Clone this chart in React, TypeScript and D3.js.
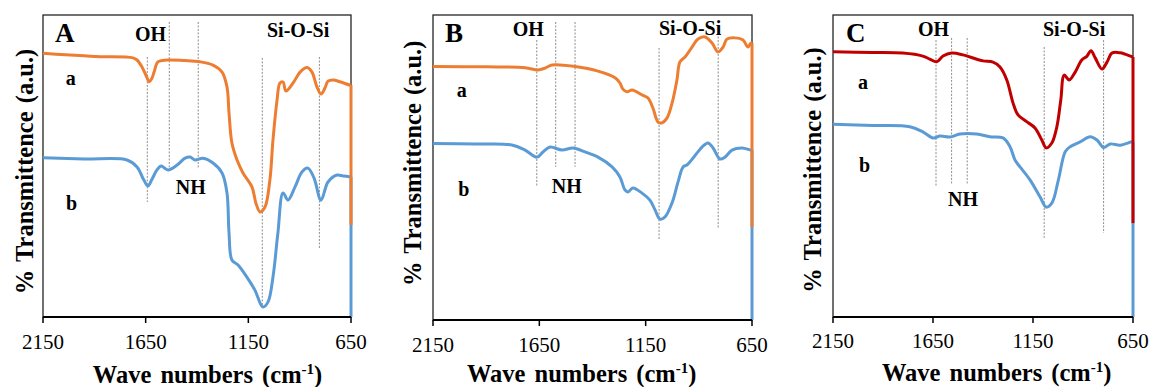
import React from "react";
import * as d3 from "d3";

// ---------- data (wavenumber cm-1, % transmittance a.u.) ----------
const tickValues = [2150, 1650, 1150, 650];
const panelLetters = ["A", "B", "C"];

const spectrumAa: [number, number][] = [
  [2150, 87.3], [2040, 86.8], [1950, 86.5], [1872, 86.2], [1712, 85.8], [1692, 85.1], [1668, 82.8],
  [1645, 79.5], [1634, 77.9], [1620, 79], [1609, 81.1], [1590, 84.5], [1546, 85.1], [1460, 84.9],
  [1385, 84.5], [1322, 83.4], [1278, 81.1], [1254, 76.2], [1244, 67.5], [1230, 57.6], [1205, 52],
  [1176, 47.7], [1132, 43], [1113, 37.7], [1093, 34.8], [1069, 36.4], [1045, 45.4], [1030, 58.6],
  [1010, 71.9], [996, 77.5], [981, 77.8], [967, 74.8], [932, 77.5], [898, 81.1], [864, 82.6],
  [840, 81.1], [816, 76.2], [796, 73.8], [777, 75.8], [762, 78.1], [738, 78.5], [700, 77.8],
  [655, 76.8], [650, 76.8], [650, 30.5],
];
const spectrumAb: [number, number][] = [
  [2150, 52.7], [1950, 52.3], [1741, 52.0], [1692, 49.7], [1660, 45.5], [1639, 43.4], [1620, 45.5],
  [1595, 48.7], [1575, 50.0], [1541, 48.7], [1497, 50.3], [1458, 52.6], [1434, 53.0], [1410, 52.0],
  [1371, 52.6], [1322, 51.0], [1278, 47.7], [1254, 41.1], [1244, 27.8], [1230, 18.9], [1200, 17.2],
  [1157, 13.2], [1118, 8.9], [1079, 3.3], [1054, 5.0], [1030, 13.2], [1006, 27.8], [981, 41.1],
  [957, 38.7], [923, 43.0], [889, 48.0], [860, 49.3], [830, 46.0], [796, 38.7], [762, 44.7],
  [718, 47.0], [689, 46.7], [655, 46.4], [650, 46.4], [650, 0],
];
const spectrumBa: [number, number][] = [
  [2150, 83.1], [1900, 83.0], [1717, 82.7], [1656, 82.0], [1623, 82.6], [1590, 83.6], [1482, 83.1],
  [1374, 81.6], [1294, 79.4], [1271, 77.7], [1257, 75.7], [1238, 74.8], [1214, 75.4], [1167, 73.8],
  [1139, 72.8], [1116, 69.5], [1092, 64.9], [1075, 64.6], [1050, 66.2], [1026, 71.1], [1003, 78.7],
  [989, 84.6], [965, 86.2], [932, 89.5], [904, 92.1], [871, 92.8], [838, 90.8], [810, 87.9],
  [786, 89.5], [768, 92.1], [730, 92.5], [692, 91.8], [669, 89.5], [655, 90.8], [650, 90.8], [650, 30.5],
];
const spectrumBb: [number, number][] = [
  [2150, 57.9], [1950, 57.7], [1779, 57.4], [1717, 55.7], [1661, 53.4], [1633, 55.1], [1600, 56.7],
  [1543, 55.7], [1492, 56.4], [1435, 55.1], [1374, 53.4], [1308, 50.2], [1271, 46.9], [1247, 42.6],
  [1233, 42.0], [1210, 43.3], [1167, 41.6], [1130, 39.3], [1106, 36.1], [1083, 33.1], [1059, 33.8],
  [1026, 38.4], [998, 45.2], [974, 50.2], [956, 50.8], [927, 53.1], [885, 56.7], [857, 58.0],
  [833, 56.4], [801, 52.8], [777, 53.4], [744, 55.7], [697, 56.4], [655, 55.7], [650, 55.7], [650, 0],
];
const spectrumCa: [number, number][] = [
  [2150, 87.8], [1950, 87.6], [1801, 87.4], [1701, 86.4], [1666, 85.4], [1632, 84.5], [1600, 86.4],
  [1557, 87.4], [1500, 86.8], [1465, 86.1], [1400, 84.8], [1350, 84.4], [1315, 82.8], [1281, 78.5],
  [1250, 70.9], [1225, 66.9], [1180, 64.6], [1140, 62.6], [1106, 58.6], [1084, 56.0], [1056, 57.6],
  [1031, 62.9], [1011, 71.9], [994, 80.1], [969, 78.5], [939, 81.1], [906, 85.1], [880, 86.4],
  [860, 88.2], [839, 85.8], [805, 82.1], [780, 84.4], [755, 87.4], [714, 87.5], [655, 86.2],
  [650, 86.1], [650, 31.1],
];
const spectrumCb: [number, number][] = [
  [2150, 63.8], [1950, 63.4], [1766, 63.0], [1701, 61.3], [1649, 59.3], [1615, 59.9], [1565, 59.6],
  [1515, 60.6], [1432, 60.6], [1365, 59.7], [1300, 59.3], [1265, 56.4], [1240, 52.0], [1215, 49.7],
  [1165, 45.4], [1115, 39.8], [1084, 36.4], [1056, 37.7], [1023, 45.4], [989, 54.7], [964, 56.4],
  [914, 58.0], [864, 59.7], [830, 58.6], [797, 56.1], [764, 57.3], [714, 56.9], [655, 58.0],
  [650, 57.9], [650, 0],
];

// dashed guide lines: [wavenumber, T top, T bottom]
const guidesA: [number, number, number][] = [
  [1642, 86.1, 38.1], [1535, 97.7, 49.3], [1394, 97.7, 49.3], [1082, 85.8, 3.0], [804, 86.1, 22.8],
];
const guidesB: [number, number, number][] = [
  [1662, 91.8, 43.6], [1573, 97.7, 50.2], [1482, 97.7, 50.2], [1087, 89.2, 26.2], [809, 94.1, 30.2],
];
const guidesC: [number, number, number][] = [
  [1635, 91.7, 43.0], [1557, 92.4, 44.0], [1479, 92.4, 44.0], [1094, 89.4, 26.2], [797, 91.7, 27.8],
];

const seriesLabels = ["a", "b"];
const bandLabels = ["OH", "NH", "Si-O-Si"];

// ---------- layout ----------
const ORANGE = "#ED7D31";
const BLUE = "#5B9BD5";
const RED = "#C00000";
const FONT = "'Liberation Serif', 'Times New Roman', serif";

type Panel = {
  letter: string;
  left: number; right: number; top: number; bottom: number;
  a: [number, number][]; b: [number, number][]; colorA: string;
  guides: [number, number, number][];
  yTitleX: number; yTitleY: number; xTitleX: number; xTitleY: number; tickY: number;
  letterPos: [number, number]; ohPos: [number, number]; siPos: [number, number]; nhPos: [number, number];
  aPos: [number, number]; bPos: [number, number];
};

const panels: Panel[] = [
  {
    letter: panelLetters[0], left: 43, right: 351, top: 15, bottom: 317,
    a: spectrumAa, b: spectrumAb, colorA: ORANGE, guides: guidesA,
    yTitleX: 33, yTitleY: 171.5, xTitleX: 207.5, xTitleY: 383, tickY: 348.5,
    letterPos: [55, 42], ohPos: [135, 40.7], siPos: [267, 36.5], nhPos: [175.7, 194.3],
    aPos: [65.7, 85], bPos: [66, 210],
  },
  {
    letter: panelLetters[1], left: 433, right: 752, top: 15, bottom: 320,
    a: spectrumBa, b: spectrumBb, colorA: ORANGE, guides: guidesB,
    yTitleX: 421, yTitleY: 163.3, xTitleX: 581.7, xTitleY: 381.7, tickY: 352.3,
    letterPos: [445, 42], ohPos: [512.7, 35.7], siPos: [659, 35], nhPos: [551.7, 192.7],
    aPos: [456.7, 97.3], bPos: [458.3, 196],
  },
  {
    letter: panelLetters[2], left: 833, right: 1133, top: 15, bottom: 317,
    a: spectrumCa, b: spectrumCb, colorA: RED, guides: guidesC,
    yTitleX: 821, yTitleY: 170, xTitleX: 996.7, xTitleY: 381, tickY: 348.3,
    letterPos: [846, 42], ohPos: [918, 36], siPos: [1043, 36], nhPos: [948, 205.7],
    aPos: [858, 89], bPos: [859, 171.7],
  },
];

function Spectrum({ data, x, y, color }: { data: [number, number][]; x: any; y: any; color: string }) {
  const main = data.slice(0, -1);
  const tail = data.slice(-2);
  const curve = d3.line<[number, number]>().x((d) => x(d[0])).y((d) => y(d[1])).curve(d3.curveCatmullRom.alpha(0.5));
  const straight = d3.line<[number, number]>().x((d) => x(d[0])).y((d) => y(d[1]));
  return (
    <g fill="none" stroke={color} strokeWidth={3} strokeLinejoin="round" strokeLinecap="butt">
      <path d={curve(main) || ""} />
      <path d={straight(tail) || ""} />
    </g>
  );
}

function PanelView({ p }: { p: Panel }) {
  const x = d3.scaleLinear().domain([2150, 650]).range([p.left, p.right]);
  const y = d3.scaleLinear().domain([0, 100]).range([p.bottom, p.top]);
  const boldText = { fontFamily: FONT, fontWeight: 700 as const, fill: "#000" };
  return (
    <g>
      <rect x={p.left} y={p.top} width={p.right - p.left} height={p.bottom - p.top} fill="none" stroke="#262626" strokeWidth={1.3} />
      {p.guides.map((g, i) => (
        <line key={i} x1={x(g[0])} x2={x(g[0])} y1={y(g[1])} y2={y(g[2])} stroke="#8c8c8c" strokeWidth={1} strokeDasharray="2,1.5" />
      ))}
      <Spectrum data={p.b} x={x} y={y} color={BLUE} />
      <Spectrum data={p.a} x={x} y={y} color={p.colorA} />
      <line x1={p.left} x2={p.right} y1={p.bottom} y2={p.bottom} stroke="#000" strokeWidth={1.8} />
      {tickValues.map((t) => (
        <g key={t}>
          <line x1={x(t)} x2={x(t)} y1={p.bottom} y2={p.bottom + 6} stroke="#000" strokeWidth={1.5} />
          <text x={x(t)} y={p.tickY} textAnchor="middle" fontFamily={FONT} fontSize={21} fill="#000">{t}</text>
        </g>
      ))}
      <text x={p.xTitleX} y={p.xTitleY} textAnchor="middle" {...boldText} fontSize={24.5} wordSpacing={3}>
        Wave numbers (cm<tspan dy={-9} fontSize={15}>-1</tspan><tspan dy={9}>)</tspan>
      </text>
      <text transform={`translate(${p.yTitleX},${p.yTitleY}) rotate(-90)`} textAnchor="middle" {...boldText} fontSize={24.5} wordSpacing={2}>
        % Transmittence (a.u.)
      </text>
      <text x={p.letterPos[0]} y={p.letterPos[1]} {...boldText} fontSize={27}>{p.letter}</text>
      <text x={p.ohPos[0]} y={p.ohPos[1]} {...boldText} fontSize={20}>{bandLabels[0]}</text>
      <text x={p.nhPos[0]} y={p.nhPos[1]} {...boldText} fontSize={20}>{bandLabels[1]}</text>
      <text x={p.siPos[0]} y={p.siPos[1]} {...boldText} fontSize={20}>{bandLabels[2]}</text>
      <text x={p.aPos[0]} y={p.aPos[1]} {...boldText} fontSize={20}>{seriesLabels[0]}</text>
      <text x={p.bPos[0]} y={p.bPos[1]} {...boldText} fontSize={20}>{seriesLabels[1]}</text>
    </g>
  );
}

export default function App() {
  return (
    <svg width={1150} height={387} style={{ position: "absolute", left: 0, top: 0, background: "#fff" }}>
      <rect width={1150} height={387} fill="#fff" />
      {panels.map((p) => (
        <PanelView key={p.letter} p={p} />
      ))}
    </svg>
  );
}
